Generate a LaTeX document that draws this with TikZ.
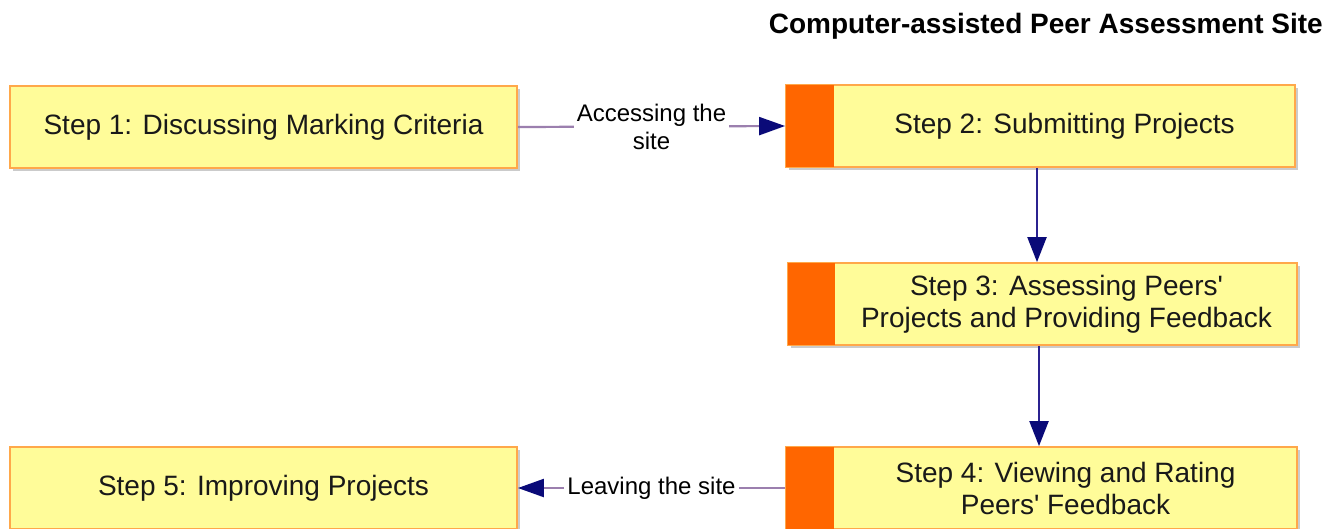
\documentclass[tikz,border=0pt]{standalone}
\usepackage{fontspec}
\setmainfont{Liberation Sans}
\usetikzlibrary{shadows,arrows.meta}
\definecolor{boxfill}{HTML}{FFFC99}
\definecolor{boxline}{HTML}{FFA84A}
\definecolor{strip}{HTML}{FF6600}
\definecolor{conn}{HTML}{9B7FAE}
\definecolor{navy}{HTML}{0A0A78}
\definecolor{varr}{HTML}{2B2290}
\tikzset{
  stepbox/.style={draw=boxline, line width=1.8pt, fill=boxfill, minimum width=#1, minimum height=82pt, inner sep=0pt,
    drop shadow={shadow xshift=3pt, shadow yshift=-3pt, fill=black!45, opacity=0.45}},
  stepbox/.default=507pt,
  boxtext/.style={font=\fontsize{28}{32}\selectfont, align=center, text=black!90, inner sep=0pt},
  lbl/.style={font=\fontsize{24}{28}\selectfont, align=center, fill=white, inner xsep=3pt, inner ysep=1pt},
  harrow/.style={draw=conn, line width=2.2pt, -{Triangle[length=26pt,width=18pt,fill=navy,color=navy]}},
  varrow/.style={draw=varr, line width=2.2pt, -{Triangle[length=25pt,width=19pt,fill=navy,color=navy]}},
}
\begin{document}
\begin{tikzpicture}[x=1pt,y=-1pt]
\useasboundingbox[fill=white] (0,0) rectangle (1332,528);
% title
\node[anchor=east, font=\bfseries\fontsize{28}{32}\selectfont, inner sep=0pt] (title) at (1323,26) {Computer-assisted Peer Assessment Site};
% boxes
\node[stepbox] (b1) at (263.5,127) {};
\node[boxtext] (t1) at (b1.center) {Step 1: Discussing Marking Criteria};
\node[stepbox=509pt] (b2) at (1040.5,126) {};
\fill[strip] ([shift={(0.9pt,0.9pt)}]b2.south west) rectangle ([shift={(49pt,-0.9pt)}]b2.north west);
\node[boxtext] (t2) at ([xshift=24pt]b2.center) {Step 2: Submitting Projects};
\node[stepbox=509pt] (b3) at (1042.5,304) {};
\fill[strip] ([shift={(0.9pt,0.9pt)}]b3.south west) rectangle ([shift={(48pt,-0.9pt)}]b3.north west);
\node[boxtext] (t3) at ([xshift=24pt]b3.center) {Step 3: Assessing Peers\textquotesingle\\Projects and Providing Feedback};
\node[stepbox=511pt] (b4) at (1041.5,488) {};
\fill[strip] ([shift={(0.9pt,0.9pt)}]b4.south west) rectangle ([shift={(49pt,-0.9pt)}]b4.north west);
\node[boxtext] (t4) at ([xshift=24pt]b4.center) {Step 4: Viewing and Rating\\Peers\textquotesingle{} Feedback};
\node[stepbox] (b5) at (263.5,488) {};
\node[boxtext] (t5) at (b5.center) {Step 5: Improving Projects};
% connectors
\draw[harrow] (b1.east) -- node[lbl] (l1) {Accessing the\\site} (b2.west);
\draw[harrow] (b4.west) -- node[lbl] (l2) {Leaving the site} (b5.east);
\draw[varrow] ([xshift=-3.5pt]b2.south) -- ([xshift=-5.5pt]b3.north);
\draw[varrow] ([xshift=-3.5pt]b3.south) -- ([xshift=-2.5pt]b4.north);
\end{tikzpicture}
\end{document}
